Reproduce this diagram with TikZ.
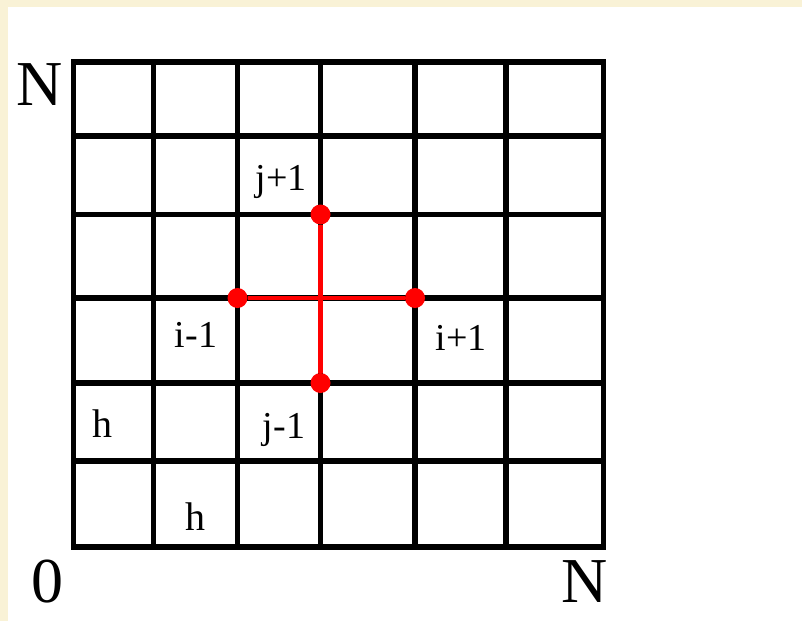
\documentclass[tikz,border=0pt]{standalone}
\usepackage{fontspec}
\setmainfont{Liberation Serif}
\definecolor{cream}{RGB}{249,242,214}
\definecolor{dotred}{RGB}{255,0,0}
\tikzset{
  gridline/.style={line width=5.5pt, black},
  redline/.style={line width=4.2pt, dotred},
  reddot/.style={circle, fill=dotred, inner sep=0pt, minimum size=20pt},
  biglbl/.style={anchor=base, font=\fontsize{64}{64}\selectfont, inner sep=0pt},
  lbl/.style={anchor=base, font=\fontsize{38}{38}\selectfont, inner sep=0pt},
  hlbl/.style={anchor=base, font=\fontsize{40}{40}\selectfont, inner sep=0pt}
}
\begin{document}
\begin{tikzpicture}[x=1pt,y=-1pt]
\fill[cream] (0,0) rectangle (802,621);
\fill[white] (8,7) rectangle (802,621);
\useasboundingbox (0,0) rectangle (802,621);
% grid coordinates
\foreach \n/\x in {0/73.5,1/153.5,2/237.5,3/320.5,4/415,5/506,6/603.5}{
  \coordinate (xt\n) at (\x,62);
  \coordinate (xb\n) at (\x,547);
}
\foreach \n/\y in {0/62,1/136,2/214.5,3/298,4/383,5/461,6/547}{
  \coordinate (yl\n) at (73.5,\y);
  \coordinate (yr\n) at (603.5,\y);
}
\foreach \n in {1,...,5}{
  \draw[gridline] (xt\n) -- (xb\n);
  \draw[gridline] (yl\n) -- (yr\n);
}
\draw[gridline] (xt0) rectangle (xb6);
% red stencil
\node[reddot] (top) at (320.5,214.5) {};
\node[reddot] (left) at (237.5,298) {};
\node[reddot] (right) at (415,298) {};
\node[reddot] (bot) at (320.5,383) {};
\draw[redline] (left) -- (right);
\draw[redline] (top) -- (bot);
% labels
\node[biglbl] (nt) at (39.5,105) {N};
\node[biglbl] (zero) at (47,602) {0};
\node[biglbl] (nb) at (584.5,602) {N};
\node[lbl] (jp) at (281,190) {j+1};
\node[lbl] (im) at (196,347) {i-1};
\node[lbl] (ip) at (461,350) {i+1};
\node[lbl] (jm) at (284,438) {j-1};
\node[hlbl] (h1) at (102,437) {h};
\node[hlbl] (h2) at (195,530) {h};
\end{tikzpicture}
\end{document}
